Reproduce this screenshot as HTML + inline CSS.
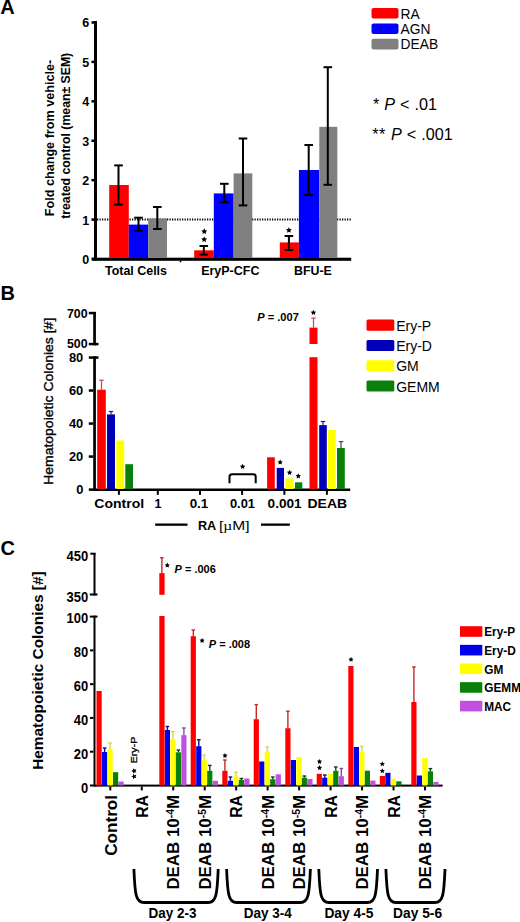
<!DOCTYPE html>
<html><head><meta charset="utf-8"><style>
html,body{margin:0;padding:0;background:#fff;}
svg{display:block;font-family:"Liberation Sans",sans-serif;}
</style></head><body>
<svg width="520" height="922" viewBox="0 0 520 922">
<rect width="520" height="922" fill="#fff"/>
<text x="0.30" y="14.40" font-size="20" font-weight="bold">A</text>
<rect x="94.00" y="21.00" width="3.00" height="239.50" fill="#000"/>
<rect x="91.50" y="257.75" width="2.50" height="2.50" fill="#000"/>
<text x="89.30" y="264.00" font-size="12.5" font-weight="bold" text-anchor="end">0</text>
<rect x="91.50" y="218.33" width="2.50" height="2.50" fill="#000"/>
<text x="89.30" y="224.58" font-size="12.5" font-weight="bold" text-anchor="end">1</text>
<rect x="91.50" y="178.91" width="2.50" height="2.50" fill="#000"/>
<text x="89.30" y="185.16" font-size="12.5" font-weight="bold" text-anchor="end">2</text>
<rect x="91.50" y="139.49" width="2.50" height="2.50" fill="#000"/>
<text x="89.30" y="145.74" font-size="12.5" font-weight="bold" text-anchor="end">3</text>
<rect x="91.50" y="100.07" width="2.50" height="2.50" fill="#000"/>
<text x="89.30" y="106.32" font-size="12.5" font-weight="bold" text-anchor="end">4</text>
<rect x="91.50" y="60.65" width="2.50" height="2.50" fill="#000"/>
<text x="89.30" y="66.90" font-size="12.5" font-weight="bold" text-anchor="end">5</text>
<rect x="91.50" y="21.23" width="2.50" height="2.50" fill="#000"/>
<text x="89.30" y="27.48" font-size="12.5" font-weight="bold" text-anchor="end">6</text>
<rect x="92.00" y="257.70" width="259.20" height="3.10" fill="#000"/>
<rect x="179.70" y="260.50" width="1.60" height="1.80" fill="#000"/>
<line x1="97" y1="219.6" x2="351" y2="219.6" stroke="#000" stroke-width="2" stroke-dasharray="1.25 1.25"/>
<rect x="109.20" y="185.00" width="19.60" height="73.00" fill="#ff0000"/>
<rect x="128.80" y="224.60" width="19.40" height="33.40" fill="#0000ff"/>
<rect x="148.20" y="218.50" width="18.80" height="39.50" fill="#808080"/>
<rect x="194.20" y="250.30" width="19.60" height="7.70" fill="#ff0000"/>
<rect x="213.80" y="193.40" width="19.80" height="64.60" fill="#0000ff"/>
<rect x="233.60" y="173.40" width="18.70" height="84.60" fill="#808080"/>
<rect x="279.80" y="242.40" width="19.10" height="15.60" fill="#ff0000"/>
<rect x="298.90" y="170.00" width="20.40" height="88.00" fill="#0000ff"/>
<rect x="319.30" y="126.80" width="18.00" height="131.20" fill="#808080"/>
<line x1="118.50" y1="165.40" x2="118.50" y2="204.60" stroke="#000" stroke-width="2"/>
<line x1="114.20" y1="165.40" x2="122.80" y2="165.40" stroke="#000" stroke-width="2"/>
<line x1="114.20" y1="204.60" x2="122.80" y2="204.60" stroke="#000" stroke-width="2"/>
<line x1="138.50" y1="217.70" x2="138.50" y2="230.80" stroke="#000" stroke-width="2"/>
<line x1="134.20" y1="217.70" x2="142.80" y2="217.70" stroke="#000" stroke-width="2"/>
<line x1="134.20" y1="230.80" x2="142.80" y2="230.80" stroke="#000" stroke-width="2"/>
<line x1="157.30" y1="207.00" x2="157.30" y2="229.00" stroke="#000" stroke-width="2"/>
<line x1="153.00" y1="207.00" x2="161.60" y2="207.00" stroke="#000" stroke-width="2"/>
<line x1="153.00" y1="229.00" x2="161.60" y2="229.00" stroke="#000" stroke-width="2"/>
<line x1="203.80" y1="246.00" x2="203.80" y2="254.60" stroke="#000" stroke-width="2"/>
<line x1="199.50" y1="246.00" x2="208.10" y2="246.00" stroke="#000" stroke-width="2"/>
<line x1="199.50" y1="254.60" x2="208.10" y2="254.60" stroke="#000" stroke-width="2"/>
<line x1="224.30" y1="183.80" x2="224.30" y2="202.30" stroke="#000" stroke-width="2"/>
<line x1="220.00" y1="183.80" x2="228.60" y2="183.80" stroke="#000" stroke-width="2"/>
<line x1="220.00" y1="202.30" x2="228.60" y2="202.30" stroke="#000" stroke-width="2"/>
<line x1="243.00" y1="138.50" x2="243.00" y2="205.40" stroke="#000" stroke-width="2"/>
<line x1="238.70" y1="138.50" x2="247.30" y2="138.50" stroke="#000" stroke-width="2"/>
<line x1="238.70" y1="205.40" x2="247.30" y2="205.40" stroke="#000" stroke-width="2"/>
<line x1="288.90" y1="236.00" x2="288.90" y2="250.00" stroke="#000" stroke-width="2"/>
<line x1="284.60" y1="236.00" x2="293.20" y2="236.00" stroke="#000" stroke-width="2"/>
<line x1="284.60" y1="250.00" x2="293.20" y2="250.00" stroke="#000" stroke-width="2"/>
<line x1="308.70" y1="145.00" x2="308.70" y2="194.90" stroke="#000" stroke-width="2"/>
<line x1="304.40" y1="145.00" x2="313.00" y2="145.00" stroke="#000" stroke-width="2"/>
<line x1="304.40" y1="194.90" x2="313.00" y2="194.90" stroke="#000" stroke-width="2"/>
<line x1="327.80" y1="67.20" x2="327.80" y2="184.80" stroke="#000" stroke-width="2"/>
<line x1="323.50" y1="67.20" x2="332.10" y2="67.20" stroke="#000" stroke-width="2"/>
<line x1="323.50" y1="184.80" x2="332.10" y2="184.80" stroke="#000" stroke-width="2"/>
<polygon points="204.30,228.30 205.21,230.15 207.25,230.44 205.77,231.88 206.12,233.91 204.30,232.95 202.48,233.91 202.83,231.88 201.35,230.44 203.39,230.15" fill="#000"/>
<polygon points="204.20,236.40 205.11,238.25 207.15,238.54 205.67,239.98 206.02,242.01 204.20,241.05 202.38,242.01 202.73,239.98 201.25,238.54 203.29,238.25" fill="#000"/>
<polygon points="288.90,227.20 289.81,229.05 291.85,229.34 290.37,230.78 290.72,232.81 288.90,231.85 287.08,232.81 287.43,230.78 285.95,229.34 287.99,229.05" fill="#000"/>
<text x="105.00" y="275.00" font-size="12.2" font-weight="bold" textLength="62.00" lengthAdjust="spacingAndGlyphs">Total Cells</text>
<text x="201.20" y="275.00" font-size="12.2" font-weight="bold" textLength="58.20" lengthAdjust="spacingAndGlyphs">EryP-CFC</text>
<text x="294.00" y="275.00" font-size="12.2" font-weight="bold" textLength="37.80" lengthAdjust="spacingAndGlyphs">BFU-E</text>
<text transform="translate(53.8,138.0) rotate(-90)" font-size="12.3" font-weight="bold" text-anchor="middle" textLength="156.5" lengthAdjust="spacingAndGlyphs">Fold change from vehicle-</text>
<text transform="translate(69.7,135.8) rotate(-90)" font-size="12.3" font-weight="bold" text-anchor="middle" textLength="166" lengthAdjust="spacingAndGlyphs">treated control (mean± SEM)</text>
<rect x="371.50" y="8.00" width="27.00" height="10.60" fill="#ff0000" rx="2"/>
<text x="400.60" y="18.50" font-size="13.8">RA</text>
<rect x="371.50" y="23.40" width="27.00" height="10.60" fill="#0000ff" rx="2"/>
<text x="400.60" y="33.90" font-size="13.8">AGN</text>
<rect x="371.50" y="38.80" width="27.00" height="10.60" fill="#808080" rx="2"/>
<text x="400.60" y="49.30" font-size="13.8">DEAB</text>
<text x="372.90" y="110.00" font-size="16.2" word-spacing="0.5">* <tspan font-style="italic">P</tspan> &lt; .01</text>
<text x="372.20" y="140.40" font-size="16.2" word-spacing="0.5"><tspan letter-spacing="0.6">**</tspan> <tspan font-style="italic">P</tspan> &lt; .001</text>
<text x="0.50" y="300.20" font-size="20" font-weight="bold">B</text>
<rect x="93.20" y="312.00" width="2.70" height="33.30" fill="#000"/>
<rect x="88.80" y="311.80" width="7.10" height="2.50" fill="#000"/>
<rect x="88.80" y="342.80" width="9.70" height="2.50" fill="#000"/>
<text x="87.60" y="318.00" font-size="12.4" font-weight="bold" text-anchor="end">700</text>
<text x="87.60" y="348.40" font-size="12.4" font-weight="bold" text-anchor="end">500</text>
<rect x="93.20" y="356.30" width="2.70" height="134.70" fill="#000"/>
<rect x="88.80" y="356.30" width="9.70" height="2.50" fill="#000"/>
<text x="83.30" y="362.20" font-size="12.9" font-weight="bold" text-anchor="end">80</text>
<rect x="88.80" y="389.27" width="4.40" height="2.50" fill="#000"/>
<text x="83.30" y="395.22" font-size="12.9" font-weight="bold" text-anchor="end">60</text>
<rect x="88.80" y="422.30" width="4.40" height="2.50" fill="#000"/>
<text x="83.30" y="428.25" font-size="12.9" font-weight="bold" text-anchor="end">40</text>
<rect x="88.80" y="455.32" width="4.40" height="2.50" fill="#000"/>
<text x="83.30" y="461.27" font-size="12.9" font-weight="bold" text-anchor="end">20</text>
<rect x="88.80" y="488.35" width="4.40" height="2.50" fill="#000"/>
<text x="83.30" y="494.30" font-size="12.9" font-weight="bold" text-anchor="end">0</text>
<rect x="93.20" y="488.50" width="257.00" height="2.50" fill="#000"/>
<rect x="117.90" y="491.00" width="2.00" height="3.80" fill="#000"/>
<rect x="156.80" y="491.00" width="2.00" height="3.80" fill="#000"/>
<rect x="199.00" y="491.00" width="2.00" height="3.80" fill="#000"/>
<rect x="241.10" y="491.00" width="2.00" height="3.80" fill="#000"/>
<rect x="283.40" y="491.00" width="2.00" height="3.80" fill="#000"/>
<rect x="325.90" y="491.00" width="2.00" height="3.80" fill="#000"/>
<rect x="97.20" y="389.70" width="8.60" height="99.30" fill="#ff0000"/>
<line x1="101.50" y1="380.20" x2="101.50" y2="389.70" stroke="#d04040" stroke-width="1.2"/>
<line x1="99.25" y1="380.20" x2="103.75" y2="380.20" stroke="#d04040" stroke-width="1.2"/>
<rect x="107.00" y="414.40" width="8.00" height="74.60" fill="#0000b8"/>
<line x1="111.00" y1="411.50" x2="111.00" y2="414.40" stroke="#202080" stroke-width="1.2"/>
<line x1="108.75" y1="411.50" x2="113.25" y2="411.50" stroke="#202080" stroke-width="1.2"/>
<rect x="116.30" y="440.50" width="7.90" height="48.50" fill="#ffff00"/>
<rect x="125.30" y="464.20" width="7.70" height="24.80" fill="#0a800a"/>
<rect x="267.10" y="457.30" width="7.70" height="31.70" fill="#ff0000"/>
<rect x="276.70" y="467.90" width="7.30" height="21.10" fill="#0000b8"/>
<rect x="285.40" y="478.50" width="8.30" height="10.50" fill="#ffff00"/>
<rect x="295.00" y="482.30" width="7.30" height="6.70" fill="#0a800a"/>
<rect x="309.50" y="327.60" width="8.00" height="16.40" fill="#ff0000"/>
<rect x="309.50" y="357.20" width="8.00" height="131.80" fill="#ff0000"/>
<line x1="313.50" y1="318.10" x2="313.50" y2="327.60" stroke="#d04040" stroke-width="1.2"/>
<line x1="311.25" y1="318.10" x2="315.75" y2="318.10" stroke="#d04040" stroke-width="1.2"/>
<rect x="319.20" y="425.10" width="7.60" height="63.90" fill="#0000b8"/>
<line x1="323.00" y1="421.50" x2="323.00" y2="425.10" stroke="#202080" stroke-width="1.2"/>
<line x1="320.75" y1="421.50" x2="325.25" y2="421.50" stroke="#202080" stroke-width="1.2"/>
<rect x="328.00" y="430.00" width="7.80" height="59.00" fill="#ffff00"/>
<rect x="337.00" y="448.00" width="7.80" height="41.00" fill="#0a800a"/>
<line x1="341.00" y1="441.60" x2="341.00" y2="448.00" stroke="#305030" stroke-width="1.2"/>
<line x1="338.75" y1="441.60" x2="343.25" y2="441.60" stroke="#305030" stroke-width="1.2"/>
<polygon points="313.40,309.86 314.24,311.55 316.10,311.82 314.75,313.14 315.07,315.00 313.40,314.12 311.73,315.00 312.05,313.14 310.70,311.82 312.56,311.55" fill="#000"/>
<polygon points="280.20,459.46 281.04,461.15 282.90,461.42 281.55,462.74 281.87,464.60 280.20,463.72 278.53,464.60 278.85,462.74 277.50,461.42 279.36,461.15" fill="#000"/>
<polygon points="289.60,469.86 290.44,471.55 292.30,471.82 290.95,473.14 291.27,475.00 289.60,474.12 287.93,475.00 288.25,473.14 286.90,471.82 288.76,471.55" fill="#000"/>
<polygon points="298.30,473.26 299.14,474.95 301.00,475.22 299.65,476.54 299.97,478.40 298.30,477.52 296.63,478.40 296.95,476.54 295.60,475.22 297.46,474.95" fill="#000"/>
<polygon points="242.60,463.86 243.44,465.55 245.30,465.82 243.95,467.14 244.27,469.00 242.60,468.12 240.93,469.00 241.25,467.14 239.90,465.82 241.76,465.55" fill="#000"/>
<path d="M229.5,483.3 L229.5,476.7 Q229.5,474.2 232,474.2 L253.2,474.2 Q255.7,474.2 255.7,476.7 L255.7,483.3" fill="none" stroke="#000" stroke-width="2"/>
<text x="257.30" y="320.70" font-size="10.3" font-weight="bold" textLength="41.50" lengthAdjust="spacingAndGlyphs"><tspan font-style="italic">P</tspan> = .007</text>
<text x="94.30" y="508.10" font-size="12.5" font-weight="bold" textLength="49.80" lengthAdjust="spacingAndGlyphs">Control</text>
<text x="154.60" y="508.10" font-size="12.5" font-weight="bold">1</text>
<text x="189.70" y="508.10" font-size="12.5" font-weight="bold" textLength="18.60" lengthAdjust="spacingAndGlyphs">0.1</text>
<text x="229.90" y="508.10" font-size="12.5" font-weight="bold" textLength="25.10" lengthAdjust="spacingAndGlyphs">0.01</text>
<text x="267.60" y="508.10" font-size="12.5" font-weight="bold" textLength="34.10" lengthAdjust="spacingAndGlyphs">0.001</text>
<text x="307.50" y="508.10" font-size="12.5" font-weight="bold" textLength="39.60" lengthAdjust="spacingAndGlyphs">DEAB</text>
<rect x="155.20" y="523.50" width="32.30" height="2.30" fill="#000"/>
<rect x="261.00" y="523.50" width="28.80" height="2.30" fill="#000"/>
<text x="197.90" y="530.20" font-size="12.6" font-weight="bold" textLength="18.30" lengthAdjust="spacingAndGlyphs">RA</text>
<text x="219.00" y="530.20" font-size="12.6" textLength="30.60" lengthAdjust="spacingAndGlyphs">[<tspan font-family="Liberation Serif">µ</tspan>M]</text>
<text transform="translate(53.2,401.3) rotate(-90)" font-size="13.6" stroke="#000" stroke-width="0.35" text-anchor="middle" textLength="167.2" lengthAdjust="spacingAndGlyphs">Hematopoietic Colonies [#]</text>
<rect x="366.50" y="319.60" width="27.80" height="11.10" fill="#ff0000" rx="1.5"/>
<text x="396.20" y="330.60" font-size="14">Ery-P</text>
<rect x="366.50" y="339.90" width="27.80" height="11.10" fill="#0000b8" rx="1.5"/>
<text x="396.20" y="350.90" font-size="14">Ery-D</text>
<rect x="366.50" y="360.20" width="27.80" height="11.10" fill="#ffff00" rx="1.5"/>
<text x="396.20" y="371.20" font-size="14">GM</text>
<rect x="366.50" y="380.50" width="27.80" height="11.10" fill="#0a800a" rx="1.5"/>
<text x="396.20" y="391.50" font-size="14">GEMM</text>
<text x="0.50" y="555.30" font-size="20" font-weight="bold">C</text>
<rect x="93.50" y="553.00" width="2.00" height="42.50" fill="#000"/>
<rect x="90.30" y="552.70" width="5.20" height="2.00" fill="#000"/>
<rect x="89.80" y="593.50" width="7.70" height="2.00" fill="#000"/>
<text x="88.20" y="561.20" font-size="14.4" font-weight="bold" text-anchor="end" textLength="21.70" lengthAdjust="spacingAndGlyphs">450</text>
<text x="88.20" y="601.60" font-size="14.4" font-weight="bold" text-anchor="end" textLength="21.70" lengthAdjust="spacingAndGlyphs">350</text>
<rect x="93.50" y="615.60" width="2.00" height="171.00" fill="#000"/>
<rect x="89.80" y="615.60" width="7.70" height="2.00" fill="#000"/>
<text x="88.20" y="623.20" font-size="14.4" font-weight="bold" text-anchor="end" textLength="21.69" lengthAdjust="spacingAndGlyphs">100</text>
<rect x="90.00" y="649.38" width="3.50" height="2.00" fill="#000"/>
<text x="88.20" y="657.48" font-size="14.4" font-weight="bold" text-anchor="end" textLength="14.46" lengthAdjust="spacingAndGlyphs">80</text>
<rect x="90.00" y="683.16" width="3.50" height="2.00" fill="#000"/>
<text x="88.20" y="691.26" font-size="14.4" font-weight="bold" text-anchor="end" textLength="14.46" lengthAdjust="spacingAndGlyphs">60</text>
<rect x="90.00" y="716.94" width="3.50" height="2.00" fill="#000"/>
<text x="88.20" y="725.04" font-size="14.4" font-weight="bold" text-anchor="end" textLength="14.46" lengthAdjust="spacingAndGlyphs">40</text>
<rect x="90.00" y="750.72" width="3.50" height="2.00" fill="#000"/>
<text x="88.20" y="758.82" font-size="14.4" font-weight="bold" text-anchor="end" textLength="14.46" lengthAdjust="spacingAndGlyphs">20</text>
<rect x="90.00" y="784.50" width="3.50" height="2.00" fill="#000"/>
<text x="88.20" y="792.60" font-size="14.4" font-weight="bold" text-anchor="end" textLength="7.23" lengthAdjust="spacingAndGlyphs">0</text>
<rect x="93.50" y="784.60" width="349.10" height="2.00" fill="#000"/>
<rect x="109.30" y="786.60" width="2.00" height="3.80" fill="#000"/>
<rect x="140.77" y="786.60" width="2.00" height="3.80" fill="#000"/>
<rect x="172.24" y="786.60" width="2.00" height="3.80" fill="#000"/>
<rect x="203.71" y="786.60" width="2.00" height="3.80" fill="#000"/>
<rect x="235.18" y="786.60" width="2.00" height="3.80" fill="#000"/>
<rect x="266.65" y="786.60" width="2.00" height="3.80" fill="#000"/>
<rect x="298.12" y="786.60" width="2.00" height="3.80" fill="#000"/>
<rect x="329.59" y="786.60" width="2.00" height="3.80" fill="#000"/>
<rect x="361.06" y="786.60" width="2.00" height="3.80" fill="#000"/>
<rect x="392.53" y="786.60" width="2.00" height="3.80" fill="#000"/>
<rect x="424.00" y="786.60" width="2.00" height="3.80" fill="#000"/>
<rect x="96.50" y="691.00" width="5.20" height="94.50" fill="#ff0000"/>
<rect x="102.00" y="752.00" width="5.20" height="33.50" fill="#0000e8"/>
<rect x="107.50" y="749.30" width="5.20" height="36.20" fill="#ffff00"/>
<rect x="113.00" y="772.20" width="5.20" height="13.30" fill="#0a800a"/>
<rect x="118.50" y="781.60" width="5.20" height="3.90" fill="#c050e0"/>
<line x1="104.60" y1="748.00" x2="104.60" y2="752.00" stroke="#101080" stroke-width="1.4"/>
<line x1="102.80" y1="748.00" x2="106.40" y2="748.00" stroke="#101080" stroke-width="1.4"/>
<line x1="110.10" y1="743.00" x2="110.10" y2="749.30" stroke="#d8d850" stroke-width="1.4"/>
<line x1="108.30" y1="743.00" x2="111.90" y2="743.00" stroke="#d8d850" stroke-width="1.4"/>
<rect x="164.80" y="730.00" width="5.20" height="55.50" fill="#0000e8"/>
<rect x="170.30" y="739.20" width="5.20" height="46.30" fill="#ffff00"/>
<rect x="175.80" y="752.30" width="5.20" height="33.20" fill="#0a800a"/>
<rect x="181.30" y="735.10" width="5.20" height="50.40" fill="#c050e0"/>
<line x1="161.90" y1="557.80" x2="161.90" y2="573.10" stroke="#c82828" stroke-width="1.4"/>
<line x1="160.10" y1="557.80" x2="163.70" y2="557.80" stroke="#c82828" stroke-width="1.4"/>
<line x1="167.40" y1="726.50" x2="167.40" y2="730.00" stroke="#101080" stroke-width="1.4"/>
<line x1="165.60" y1="726.50" x2="169.20" y2="726.50" stroke="#101080" stroke-width="1.4"/>
<line x1="172.90" y1="731.50" x2="172.90" y2="739.20" stroke="#d8d850" stroke-width="1.4"/>
<line x1="171.10" y1="731.50" x2="174.70" y2="731.50" stroke="#d8d850" stroke-width="1.4"/>
<line x1="178.40" y1="750.00" x2="178.40" y2="752.30" stroke="#104010" stroke-width="1.4"/>
<line x1="176.60" y1="750.00" x2="180.20" y2="750.00" stroke="#104010" stroke-width="1.4"/>
<line x1="183.90" y1="728.00" x2="183.90" y2="735.10" stroke="#8a4a9a" stroke-width="1.4"/>
<line x1="182.10" y1="728.00" x2="185.70" y2="728.00" stroke="#8a4a9a" stroke-width="1.4"/>
<rect x="190.70" y="636.20" width="5.20" height="149.30" fill="#ff0000"/>
<rect x="196.20" y="746.20" width="5.20" height="39.30" fill="#0000e8"/>
<rect x="201.70" y="760.30" width="5.20" height="25.20" fill="#ffff00"/>
<rect x="207.20" y="770.80" width="5.20" height="14.70" fill="#0a800a"/>
<rect x="212.70" y="780.80" width="5.20" height="4.70" fill="#c050e0"/>
<line x1="193.30" y1="630.00" x2="193.30" y2="636.20" stroke="#c82828" stroke-width="1.4"/>
<line x1="191.50" y1="630.00" x2="195.10" y2="630.00" stroke="#c82828" stroke-width="1.4"/>
<line x1="198.80" y1="739.70" x2="198.80" y2="746.20" stroke="#101080" stroke-width="1.4"/>
<line x1="197.00" y1="739.70" x2="200.60" y2="739.70" stroke="#101080" stroke-width="1.4"/>
<line x1="204.30" y1="755.00" x2="204.30" y2="760.30" stroke="#d8d850" stroke-width="1.4"/>
<line x1="202.50" y1="755.00" x2="206.10" y2="755.00" stroke="#d8d850" stroke-width="1.4"/>
<line x1="209.80" y1="765.40" x2="209.80" y2="770.80" stroke="#104010" stroke-width="1.4"/>
<line x1="208.00" y1="765.40" x2="211.60" y2="765.40" stroke="#104010" stroke-width="1.4"/>
<rect x="222.30" y="770.80" width="5.20" height="14.70" fill="#ff0000"/>
<rect x="227.80" y="780.80" width="5.20" height="4.70" fill="#0000e8"/>
<rect x="233.30" y="776.20" width="5.20" height="9.30" fill="#ffff00"/>
<rect x="238.80" y="780.00" width="5.20" height="5.50" fill="#0a800a"/>
<rect x="244.30" y="778.50" width="5.20" height="7.00" fill="#c050e0"/>
<line x1="224.90" y1="760.00" x2="224.90" y2="770.80" stroke="#c82828" stroke-width="1.4"/>
<line x1="223.10" y1="760.00" x2="226.70" y2="760.00" stroke="#c82828" stroke-width="1.4"/>
<line x1="230.40" y1="777.00" x2="230.40" y2="780.80" stroke="#101080" stroke-width="1.4"/>
<line x1="228.60" y1="777.00" x2="232.20" y2="777.00" stroke="#101080" stroke-width="1.4"/>
<line x1="235.90" y1="772.30" x2="235.90" y2="776.20" stroke="#d8d850" stroke-width="1.4"/>
<line x1="234.10" y1="772.30" x2="237.70" y2="772.30" stroke="#d8d850" stroke-width="1.4"/>
<line x1="241.40" y1="778.50" x2="241.40" y2="780.00" stroke="#104010" stroke-width="1.4"/>
<line x1="239.60" y1="778.50" x2="243.20" y2="778.50" stroke="#104010" stroke-width="1.4"/>
<rect x="253.70" y="719.20" width="5.20" height="66.30" fill="#ff0000"/>
<rect x="259.20" y="761.50" width="5.20" height="24.00" fill="#0000e8"/>
<rect x="264.70" y="751.50" width="5.20" height="34.00" fill="#ffff00"/>
<rect x="270.20" y="779.20" width="5.20" height="6.30" fill="#0a800a"/>
<rect x="275.70" y="774.30" width="5.20" height="11.20" fill="#c050e0"/>
<line x1="256.30" y1="704.60" x2="256.30" y2="719.20" stroke="#c82828" stroke-width="1.4"/>
<line x1="254.50" y1="704.60" x2="258.10" y2="704.60" stroke="#c82828" stroke-width="1.4"/>
<line x1="267.30" y1="747.00" x2="267.30" y2="751.50" stroke="#d8d850" stroke-width="1.4"/>
<line x1="265.50" y1="747.00" x2="269.10" y2="747.00" stroke="#d8d850" stroke-width="1.4"/>
<line x1="272.80" y1="777.00" x2="272.80" y2="779.20" stroke="#104010" stroke-width="1.4"/>
<line x1="271.00" y1="777.00" x2="274.60" y2="777.00" stroke="#104010" stroke-width="1.4"/>
<rect x="285.30" y="728.20" width="5.20" height="57.30" fill="#ff0000"/>
<rect x="290.80" y="760.00" width="5.20" height="25.50" fill="#0000e8"/>
<rect x="296.30" y="757.00" width="5.20" height="28.50" fill="#ffff00"/>
<rect x="301.80" y="777.70" width="5.20" height="7.80" fill="#0a800a"/>
<rect x="307.30" y="779.00" width="5.20" height="6.50" fill="#c050e0"/>
<line x1="287.90" y1="711.20" x2="287.90" y2="728.20" stroke="#c82828" stroke-width="1.4"/>
<line x1="286.10" y1="711.20" x2="289.70" y2="711.20" stroke="#c82828" stroke-width="1.4"/>
<line x1="304.40" y1="776.00" x2="304.40" y2="777.70" stroke="#104010" stroke-width="1.4"/>
<line x1="302.60" y1="776.00" x2="306.20" y2="776.00" stroke="#104010" stroke-width="1.4"/>
<rect x="316.70" y="773.80" width="5.20" height="11.70" fill="#ff0000"/>
<rect x="322.20" y="777.70" width="5.20" height="7.80" fill="#0000e8"/>
<rect x="327.70" y="773.80" width="5.20" height="11.70" fill="#ffff00"/>
<rect x="333.20" y="770.80" width="5.20" height="14.70" fill="#0a800a"/>
<rect x="338.70" y="776.20" width="5.20" height="9.30" fill="#c050e0"/>
<line x1="324.80" y1="775.00" x2="324.80" y2="777.70" stroke="#101080" stroke-width="1.4"/>
<line x1="323.00" y1="775.00" x2="326.60" y2="775.00" stroke="#101080" stroke-width="1.4"/>
<line x1="335.80" y1="767.00" x2="335.80" y2="770.80" stroke="#104010" stroke-width="1.4"/>
<line x1="334.00" y1="767.00" x2="337.60" y2="767.00" stroke="#104010" stroke-width="1.4"/>
<line x1="341.30" y1="768.50" x2="341.30" y2="776.20" stroke="#8a4a9a" stroke-width="1.4"/>
<line x1="339.50" y1="768.50" x2="343.10" y2="768.50" stroke="#8a4a9a" stroke-width="1.4"/>
<rect x="348.30" y="666.00" width="5.20" height="119.50" fill="#ff0000"/>
<rect x="353.80" y="747.00" width="5.20" height="38.50" fill="#0000e8"/>
<rect x="359.30" y="751.60" width="5.20" height="33.90" fill="#ffff00"/>
<rect x="364.80" y="770.70" width="5.20" height="14.80" fill="#0a800a"/>
<rect x="370.30" y="780.60" width="5.20" height="4.90" fill="#c050e0"/>
<line x1="361.90" y1="746.40" x2="361.90" y2="751.60" stroke="#d8d850" stroke-width="1.4"/>
<line x1="360.10" y1="746.40" x2="363.70" y2="746.40" stroke="#d8d850" stroke-width="1.4"/>
<rect x="379.80" y="776.00" width="5.20" height="9.50" fill="#ff0000"/>
<rect x="385.30" y="772.80" width="5.20" height="12.70" fill="#0000e8"/>
<rect x="390.80" y="778.70" width="5.20" height="6.80" fill="#ffff00"/>
<rect x="396.30" y="781.30" width="5.20" height="4.20" fill="#0a800a"/>
<rect x="411.30" y="702.00" width="5.20" height="83.50" fill="#ff0000"/>
<rect x="416.80" y="775.50" width="5.20" height="10.00" fill="#0000e8"/>
<rect x="422.30" y="758.00" width="5.20" height="27.50" fill="#ffff00"/>
<rect x="427.80" y="771.30" width="5.20" height="14.20" fill="#0a800a"/>
<rect x="433.30" y="781.90" width="5.20" height="3.60" fill="#c050e0"/>
<line x1="413.90" y1="667.00" x2="413.90" y2="702.00" stroke="#c82828" stroke-width="1.4"/>
<line x1="412.10" y1="667.00" x2="415.70" y2="667.00" stroke="#c82828" stroke-width="1.4"/>
<line x1="430.40" y1="768.60" x2="430.40" y2="771.30" stroke="#104010" stroke-width="1.4"/>
<line x1="428.60" y1="768.60" x2="432.20" y2="768.60" stroke="#104010" stroke-width="1.4"/>
<rect x="159.30" y="573.10" width="5.30" height="21.70" fill="#ff0000"/>
<rect x="159.30" y="616.00" width="5.30" height="169.50" fill="#ff0000"/>
<polygon points="167.30,562.59 168.10,564.20 169.88,564.46 168.59,565.72 168.89,567.49 167.30,566.66 165.71,567.49 166.01,565.72 164.72,564.46 166.50,564.20" fill="#000"/>
<text x="174.60" y="572.70" font-size="10.3" font-weight="bold" textLength="41.20" lengthAdjust="spacingAndGlyphs"><tspan font-style="italic">P</tspan> = .006</text>
<polygon points="202.10,637.99 202.90,639.60 204.68,639.86 203.39,641.12 203.69,642.89 202.10,642.06 200.51,642.89 200.81,641.12 199.52,639.86 201.30,639.60" fill="#000"/>
<text x="208.80" y="648.00" font-size="10.3" font-weight="bold" textLength="41.20" lengthAdjust="spacingAndGlyphs"><tspan font-style="italic">P</tspan> = .008</text>
<polygon points="225.00,752.99 225.80,754.60 227.58,754.86 226.29,756.12 226.59,757.89 225.00,757.06 223.41,757.89 223.71,756.12 222.42,754.86 224.20,754.60" fill="#000"/>
<polygon points="351.00,656.79 351.80,658.40 353.58,658.66 352.29,659.92 352.59,661.69 351.00,660.86 349.41,661.69 349.71,659.92 348.42,658.66 350.20,658.40" fill="#000"/>
<polygon points="319.50,758.99 320.30,760.60 322.08,760.86 320.79,762.12 321.09,763.89 319.50,763.06 317.91,763.89 318.21,762.12 316.92,760.86 318.70,760.60" fill="#000"/>
<polygon points="319.50,765.09 320.30,766.70 322.08,766.96 320.79,768.22 321.09,769.99 319.50,769.16 317.91,769.99 318.21,768.22 316.92,766.96 318.70,766.70" fill="#000"/>
<polygon points="382.30,761.29 383.10,762.90 384.88,763.16 383.59,764.42 383.89,766.19 382.30,765.36 380.71,766.19 381.01,764.42 379.72,763.16 381.50,762.90" fill="#000"/>
<polygon points="382.30,768.29 383.10,769.90 384.88,770.16 383.59,771.42 383.89,773.19 382.30,772.36 380.71,773.19 381.01,771.42 379.72,770.16 381.50,769.90" fill="#000"/>
<text transform="translate(137.4,763.2) rotate(-90)" font-size="9.6" stroke="#000" stroke-width="0.3" textLength="26.4" lengthAdjust="spacingAndGlyphs">Ery-P</text>
<polygon points="131.26,770.90 132.95,770.06 133.22,768.20 134.54,769.55 136.40,769.23 135.52,770.90 136.40,772.57 134.54,772.25 133.22,773.60 132.95,771.74" fill="#000"/>
<polygon points="131.26,776.50 132.95,775.66 133.22,773.80 134.54,775.15 136.40,774.83 135.52,776.50 136.40,778.17 134.54,777.85 133.22,779.20 132.95,777.34" fill="#000"/>
<text transform="translate(116.70,795.0) rotate(-90)" font-size="16.3" font-weight="bold" text-anchor="end" textLength="60.8" lengthAdjust="spacingAndGlyphs">Control</text>
<text transform="translate(148.07,795.0) rotate(-90)" font-size="16.3" font-weight="bold" text-anchor="end" textLength="22.8" lengthAdjust="spacingAndGlyphs">RA</text>
<text transform="translate(179.14,795.0) rotate(-90)" font-size="16.3" font-weight="bold" text-anchor="end" textLength="94.6" lengthAdjust="spacingAndGlyphs">DEAB 10<tspan baseline-shift="super" font-size="10">-4</tspan>M</text>
<text transform="translate(210.61,795.0) rotate(-90)" font-size="16.3" font-weight="bold" text-anchor="end" textLength="94.6" lengthAdjust="spacingAndGlyphs">DEAB 10<tspan baseline-shift="super" font-size="10">-5</tspan>M</text>
<text transform="translate(242.48,795.0) rotate(-90)" font-size="16.3" font-weight="bold" text-anchor="end" textLength="22.8" lengthAdjust="spacingAndGlyphs">RA</text>
<text transform="translate(273.55,795.0) rotate(-90)" font-size="16.3" font-weight="bold" text-anchor="end" textLength="94.6" lengthAdjust="spacingAndGlyphs">DEAB 10<tspan baseline-shift="super" font-size="10">-4</tspan>M</text>
<text transform="translate(305.02,795.0) rotate(-90)" font-size="16.3" font-weight="bold" text-anchor="end" textLength="94.6" lengthAdjust="spacingAndGlyphs">DEAB 10<tspan baseline-shift="super" font-size="10">-5</tspan>M</text>
<text transform="translate(336.89,795.0) rotate(-90)" font-size="16.3" font-weight="bold" text-anchor="end" textLength="22.8" lengthAdjust="spacingAndGlyphs">RA</text>
<text transform="translate(367.96,795.0) rotate(-90)" font-size="16.3" font-weight="bold" text-anchor="end" textLength="94.6" lengthAdjust="spacingAndGlyphs">DEAB 10<tspan baseline-shift="super" font-size="10">-4</tspan>M</text>
<text transform="translate(399.83,795.0) rotate(-90)" font-size="16.3" font-weight="bold" text-anchor="end" textLength="22.8" lengthAdjust="spacingAndGlyphs">RA</text>
<text transform="translate(430.90,795.0) rotate(-90)" font-size="16.3" font-weight="bold" text-anchor="end" textLength="94.6" lengthAdjust="spacingAndGlyphs">DEAB 10<tspan baseline-shift="super" font-size="10">-4</tspan>M</text>
<path d="M133.9,869 C134.9,894.5 135.9,902.5 143.9,902.5 L208.2,902.5 C216.2,902.5 217.2,894.5 218.2,869" fill="none" stroke="#000" stroke-width="2.8"/>
<path d="M226.6,869 C227.6,894.5 228.6,902.5 236.6,902.5 L300.4,902.5 C308.4,902.5 309.4,894.5 310.4,869" fill="none" stroke="#000" stroke-width="2.8"/>
<path d="M318.8,869 C319.8,894.5 320.8,902.5 328.8,902.5 L367.5,902.5 C375.5,902.5 376.5,894.5 377.5,869" fill="none" stroke="#000" stroke-width="2.8"/>
<path d="M385.9,869 C386.9,894.5 387.9,902.5 395.9,902.5 L435.0,902.5 C443.0,902.5 444.0,894.5 445.0,869" fill="none" stroke="#000" stroke-width="2.8"/>
<text x="148.50" y="918.40" font-size="13.8" font-weight="bold" textLength="48.00" lengthAdjust="spacingAndGlyphs">Day 2-3</text>
<text x="243.80" y="918.40" font-size="13.8" font-weight="bold" textLength="48.00" lengthAdjust="spacingAndGlyphs">Day 3-4</text>
<text x="324.40" y="918.40" font-size="13.8" font-weight="bold" textLength="49.00" lengthAdjust="spacingAndGlyphs">Day 4-5</text>
<text x="393.10" y="918.40" font-size="13.8" font-weight="bold" textLength="49.00" lengthAdjust="spacingAndGlyphs">Day 5-6</text>
<text transform="translate(42.5,670.6) rotate(-90)" font-size="14" font-weight="bold" text-anchor="middle" textLength="198.5" lengthAdjust="spacingAndGlyphs">Hematopoietic Colonies [#]</text>
<rect x="460.00" y="626.20" width="22.30" height="10.60" fill="#ff0000"/>
<text x="484.20" y="636.40" font-size="12.6" font-weight="bold" transform="translate(484.20,0) scale(0.94,1) translate(-484.20,0)">Ery-P</text>
<rect x="460.00" y="644.85" width="22.30" height="10.60" fill="#0000e8"/>
<text x="484.20" y="655.05" font-size="12.6" font-weight="bold" transform="translate(484.20,0) scale(0.94,1) translate(-484.20,0)">Ery-D</text>
<rect x="460.00" y="663.50" width="22.30" height="10.60" fill="#ffff00"/>
<text x="484.20" y="673.70" font-size="12.6" font-weight="bold" transform="translate(484.20,0) scale(0.94,1) translate(-484.20,0)">GM</text>
<rect x="460.00" y="682.15" width="22.30" height="10.60" fill="#0a800a"/>
<text x="484.20" y="692.35" font-size="12.6" font-weight="bold" transform="translate(484.20,0) scale(0.94,1) translate(-484.20,0)">GEMM</text>
<rect x="460.00" y="700.80" width="22.30" height="10.60" fill="#c050e0"/>
<text x="484.20" y="711.00" font-size="12.6" font-weight="bold" transform="translate(484.20,0) scale(0.94,1) translate(-484.20,0)">MAC</text>
</svg>
</body></html>
